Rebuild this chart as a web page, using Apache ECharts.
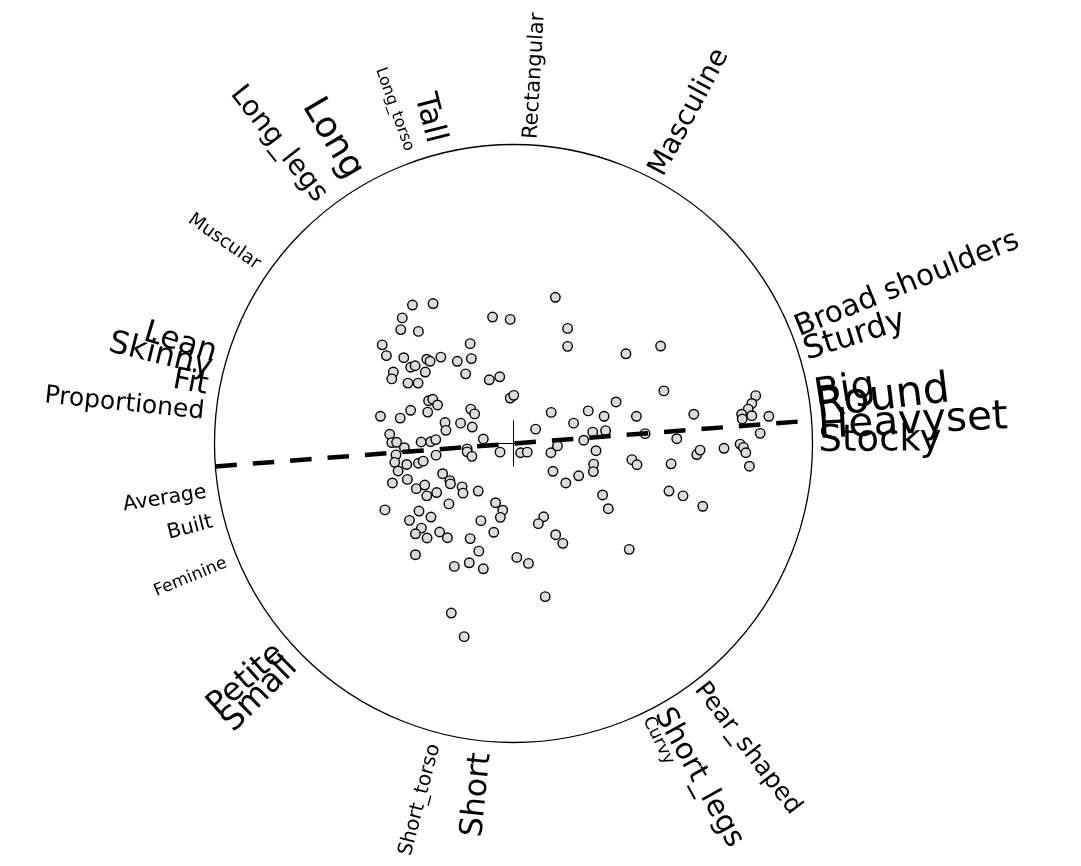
<!DOCTYPE html>
<html>
<head>
<meta charset="utf-8">
<script src="https://cdn.jsdelivr.net/npm/echarts@6/dist/echarts.min.js"></script>
<style>
  html, body { margin: 0; padding: 0; background: #ffffff; }
  #chart { width: 1081px; height: 866px; }
</style>
</head>
<body>
<div id="chart"></div>
<script>
// Body-shape descriptors placed around the unit circle
const labelNames = [
  'Rectangular', 'Masculine', 'Broad shoulders', 'Sturdy', 'Big', 'Round',
  'Heavyset', 'Stocky', 'Pear_shaped', 'Short_legs', 'Curvy', 'Short',
  'Short_torso', 'Small', 'Petite', 'Feminine', 'Built', 'Average',
  'Proportioned', 'Fit', 'Skinny', 'Lean', 'Muscular', 'Long_legs', 'Long',
  'Long_torso', 'Tall'
];
// Direction of each descriptor, degrees counter-clockwise from the +x axis
const labelAngles = [
  86.7, 62, 22, 17.5, 9, 7,
  3, 0.4, -52.5, -61, -64, 264.1,
  255.3, 224.7, 221.5, 202.5, 194.6, 189,
  174.2, 169.4, 166, 163.2, 145.1, 128.1, 120.7,
  109.6, 104.5
];
// Text size of each descriptor (px)
const labelSizes = [
  21, 28, 29.5, 32, 38, 42.5,
  40.5, 37, 25, 29.5, 17.5, 31.5,
  20, 33, 32, 17, 20.5, 20.5,
  25, 30, 31.5, 31, 18.5, 28, 36,
  16, 31
];

// Individual scores (unit circle scale)
const scoreX = [
  -0.338, -0.269, -0.372, -0.377, -0.318, -0.070, -0.011, 0.140, 0.181, 0.181,
  -0.439, -0.425, -0.367, -0.290, -0.279, -0.243, -0.145, -0.141, -0.188, -0.344,
  -0.329, -0.295, -0.402, -0.407, -0.353, -0.319, -0.160, -0.081, -0.046, -0.011,
  0.001, -0.284, -0.270, -0.254, -0.287, -0.344, -0.379, -0.445, -0.143, -0.130,
  0.126, 0.250, 0.303, -0.229, -0.226, -0.177, -0.138, 0.074, 0.201, -0.414,
  -0.407, -0.391, -0.365, -0.309, -0.277, -0.260, -0.101, -0.393, -0.397, -0.357,
  -0.318, -0.302, -0.259, -0.155, -0.155, -0.139, -0.045, 0.024, 0.046, 0.125,
  0.147, 0.235, 0.265, 0.308, 0.276, -0.386, -0.405, -0.355, -0.237, -0.213,
  -0.211, -0.325, -0.297, -0.290, -0.257, -0.172, -0.169, -0.118, -0.216, -0.060,
  -0.036, -0.044, 0.132, 0.175, 0.218, 0.268, 0.267, 0.298, 0.317, -0.430,
  -0.316, -0.276, -0.348, -0.308, -0.328, -0.289, -0.247, -0.221, -0.145, -0.109,
  -0.066, 0.101, 0.083, 0.141, 0.165, -0.328, -0.116, -0.198, -0.148, -0.101,
  0.011, 0.050, 0.106, 0.376, 0.492, 0.503, 0.343, 0.411, 0.440, 0.546,
  0.603, 0.396, 0.413, 0.527, 0.613, 0.624, 0.704, 0.520, 0.567, 0.633,
  0.810, 0.797, 0.785, 0.763, 0.797, 0.765, 0.854, 0.825, 0.758, 0.769,
  0.777, 0.789, -0.208, -0.165, 0.387
];
const scoreY = [
  0.463, 0.468, 0.420, 0.381, 0.375, 0.423, 0.415, 0.489, 0.385, 0.325,
  0.330, 0.294, 0.287, 0.282, 0.275, 0.289, 0.334, 0.284, 0.275, 0.255,
  0.260, 0.239, 0.239, 0.216, 0.202, 0.202, 0.233, 0.213, 0.223, 0.152,
  0.161, 0.143, 0.148, 0.129, 0.105, 0.111, 0.085, 0.091, 0.115, 0.099,
  0.104, 0.109, 0.091, 0.070, 0.044, 0.068, 0.055, 0.048, 0.068, 0.031,
  0.003, 0.004, -0.014, 0.005, 0.006, 0.013, 0.015, -0.038, -0.063, -0.070,
  -0.066, -0.059, -0.039, -0.018, -0.028, -0.043, -0.029, -0.031, -0.029, -0.031,
  -0.008, 0.011, 0.038, 0.043, -0.024, -0.092, -0.132, -0.120, -0.101, -0.124,
  -0.135, -0.151, -0.139, -0.175, -0.164, -0.145, -0.166, -0.159, -0.202, -0.198,
  -0.223, -0.247, -0.093, -0.132, -0.108, -0.069, -0.094, -0.172, -0.218, -0.222,
  -0.226, -0.246, -0.257, -0.283, -0.302, -0.316, -0.296, -0.315, -0.318, -0.258,
  -0.297, -0.245, -0.268, -0.305, -0.334, -0.372, -0.360, -0.411, -0.399, -0.419,
  -0.381, -0.401, -0.512, 0.300, 0.326, 0.176, 0.139, 0.091, 0.033, 0.016,
  0.098, -0.054, -0.071, -0.068, -0.037, -0.022, -0.016, -0.159, -0.175, -0.210,
  0.160, 0.134, 0.115, 0.098, 0.093, 0.082, 0.091, 0.034, -0.002, -0.013,
  -0.031, -0.076, -0.567, -0.646, -0.354
];

// Slope of the fitted direction through the origin
const fitSlope = 0.077;
// Half-extents of the cross drawn at the origin
const crossHalfX = 0.057;
const crossHalfY = 0.077;

// Canvas layout: circle centre and radius in pixels
const W = 1081, H = 866;
const CX = 513.5, CY = 443.5, RADIUS = 299;
// Distance between circle and text: outward-reading / inward-reading labels
const GAP_OUT = 6;
const GAP_IN = 12;

const chart = echarts.init(document.getElementById('chart'), null, {
  renderer: 'canvas', width: W, height: H
});

const toRad = d => d * Math.PI / 180;

// Fitted line clipped to the unit circle
const tEnd = 1 / Math.sqrt(1 + fitSlope * fitSlope);
const fitLine = [[-tEnd, -fitSlope * tEnd], [tEnd, fitSlope * tEnd]];

const scorePoints = scoreX.map((x, i) => [x, scoreY[i]]);
const labelData = labelAngles.map((deg, i) => [Math.cos(toRad(deg)), Math.sin(toRad(deg)), i]);

const option = {
  animation: false,
  backgroundColor: '#ffffff',
  grid: { left: 0, top: 0, width: W, height: H, containLabel: false },
  xAxis: { type: 'value', min: -CX / RADIUS, max: (W - CX) / RADIUS, show: false },
  yAxis: { type: 'value', min: -(H - CY) / RADIUS, max: CY / RADIUS, show: false },
  series: [
    {
      // unit circle
      type: 'custom',
      silent: true,
      z: 1,
      data: [[0, 0]],
      renderItem: (params, api) => {
        const c = api.coord([0, 0]);
        const e = api.coord([1, 0]);
        return {
          type: 'circle',
          shape: { cx: c[0], cy: c[1], r: e[0] - c[0] },
          style: { fill: 'none', stroke: '#000000', lineWidth: 1.3 }
        };
      }
    },
    {
      type: 'scatter',
      z: 2,
      data: scorePoints,
      symbol: 'circle',
      symbolSize: 9.5,
      itemStyle: { color: '#dcdcdc', borderColor: '#000000', borderWidth: 1.4, opacity: 1 }
    },
    {
      type: 'line',
      z: 3,
      data: fitLine,
      symbol: 'none',
      silent: true,
      lineStyle: { color: '#000000', width: 4.5, type: [21.5, 16], cap: 'butt' }
    },
    {
      type: 'line',
      z: 3,
      data: [[-crossHalfX, 0], [crossHalfX, 0]],
      symbol: 'none',
      silent: true,
      lineStyle: { color: '#000000', width: 1 }
    },
    {
      type: 'line',
      z: 3,
      data: [[0, -crossHalfY], [0, crossHalfY]],
      symbol: 'none',
      silent: true,
      lineStyle: { color: '#000000', width: 1 }
    },
    {
      // radial descriptor labels
      type: 'custom',
      silent: true,
      z: 4,
      data: labelData,
      renderItem: (params, api) => {
        const i = api.value(2);
        const a = toRad(labelAngles[i]);
        const p = api.coord([api.value(0), api.value(1)]);
        const right = Math.cos(a) >= 0;
        const gap = right ? GAP_OUT : GAP_IN;
        return {
          type: 'text',
          x: p[0] + gap * Math.cos(a),
          y: p[1] - gap * Math.sin(a),
          rotation: right ? a : a - Math.PI,
          style: {
            text: labelNames[i],
            fontSize: labelSizes[i],
            fontFamily: 'DejaVu Sans',
            fill: '#000000',
            align: right ? 'left' : 'right',
            verticalAlign: 'middle'
          }
        };
      }
    }
  ]
};

chart.setOption(option);
</script>
</body>
</html>
